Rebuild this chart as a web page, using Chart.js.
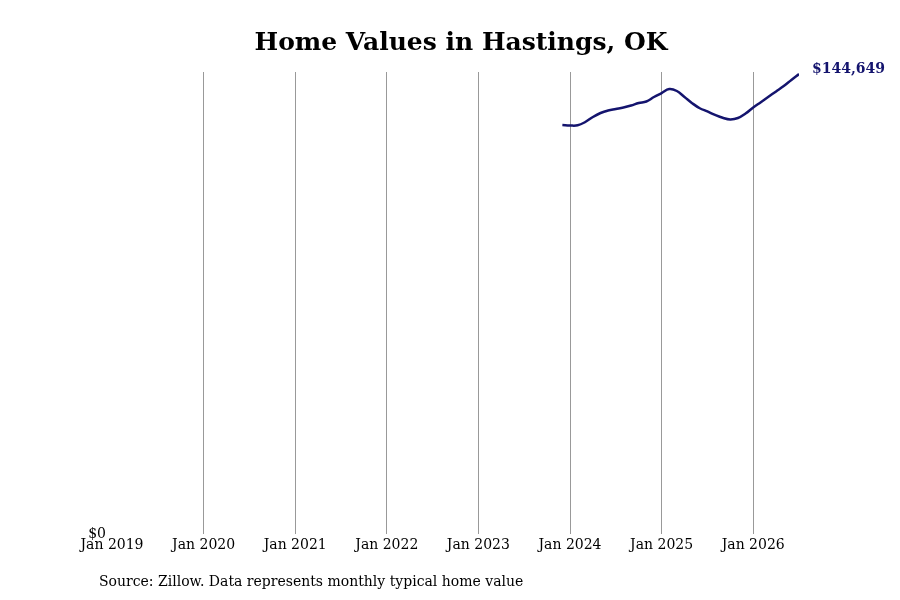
<!DOCTYPE html>
<html>
<head>
<meta charset="utf-8">
<script src="https://cdn.jsdelivr.net/npm/chart.js@4.4.1/dist/chart.umd.min.js"></script>
<style>
  html, body { margin: 0; padding: 0; background: #fff; }
  #wrap { width: 900px; height: 600px; }
</style>
</head>
<body>
<div id="wrap"><canvas id="lineChart" width="900" height="600"></canvas></div>
<script>
// months counted from Jan 2019 (0)
const yearTicks = [0, 12, 24, 36, 48, 60, 72, 84];
const yearLabels = ["Jan 2019", "Jan 2020", "Jan 2021", "Jan 2022", "Jan 2023", "Jan 2024", "Jan 2025", "Jan 2026"];

// Dec 2023 .. Jul 2026
const startMonth = 59;
const homeValues = [
  128630, 128470, 128540, 129570, 131150, 132400, 133190, 133660, 134130, 134760,
  135550, 136020, 137440, 138690, 139950, 139320, 137440, 135500, 133900, 132900,
  131800, 130900, 130400, 130830, 132250, 134130, 135800, 137500, 139200, 140900,
  142800, 144649
];

const puntos = homeValues.map((v, i) => ({ x: startMonth + i, y: v }));
const lineColor = "#14146e";
const fontFam = "'DejaVu Serif', serif";

const extras = {
  id: "extras",
  afterDraw(chart) {
    const ctx = chart.ctx;
    const meta = chart.getDatasetMeta(0);
    const last = meta.data[meta.data.length - 1];
    ctx.save();
    ctx.fillStyle = "#000";
    ctx.font = "bold 25px " + fontFam;
    ctx.textAlign = "center";
    ctx.textBaseline = "middle";
    ctx.fillText("Home Values in Hastings, OK", 461, 43);

    ctx.fillStyle = lineColor;
    ctx.font = "bold 14px " + fontFam;
    ctx.textAlign = "left";
    ctx.fillText("$" + homeValues[homeValues.length - 1].toLocaleString("en-US"), last.x + 13, last.y - 5);

    ctx.fillStyle = "#000";
    ctx.font = "14px " + fontFam;
    ctx.fillText("Source: Zillow. Data represents monthly typical home value", 99, 582);
    ctx.restore();
  }
};

const lChart = document.getElementById("lineChart").getContext("2d");
const lineChart = new Chart(lChart, {
  type: "line",
  data: {
    datasets: [
      {
        data: puntos,
        borderColor: lineColor,
        borderWidth: 2.5,
        pointRadius: 0,
        tension: 0.4,
        fill: false,
      },
    ],
  },
  options: {
    responsive: false,
    animation: false,
    layout: { padding: { top: 72, right: 101, bottom: 36, left: 0 } },
    plugins: { legend: { display: false }, tooltip: { enabled: false } },
    scales: {
      x: {
        type: "linear",
        min: 0,
        max: 90,
        afterBuildTicks: (scale) => { scale.ticks = yearTicks.map(v => ({ value: v })); },
        afterFit: (scale) => { scale.height = 30; },
        ticks: {
          padding: 3,
          color: "#000",
          font: { family: fontFam, size: 14 },
          maxRotation: 0,
          autoSkip: false,
          callback: (v) => yearLabels[yearTicks.indexOf(v)],
        },
        grid: {
          color: (c) => (c.tick && c.tick.value === 0 ? "rgba(0,0,0,0)" : "#999"),
          lineWidth: 1,
          drawTicks: false,
        },
        border: { display: false },
      },
      y: {
        min: 0,
        max: 145300,
        afterBuildTicks: (scale) => { scale.ticks = [{ value: 0 }]; },
        afterFit: (scale) => { scale.width = 112; },
        ticks: {
          padding: 6,
          color: "#000",
          font: { family: fontFam, size: 14 },
          callback: (v) => "$" + v,
        },
        grid: { display: false, drawTicks: false },
        border: { display: false },
      },
    },
  },
  plugins: [extras],
});
</script>
</body>
</html>
